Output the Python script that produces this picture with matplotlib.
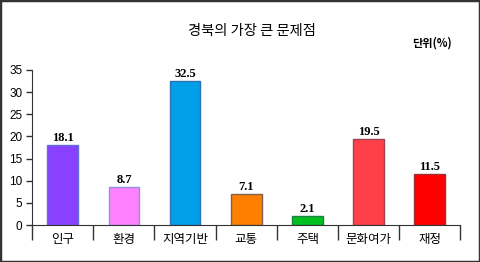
import matplotlib
matplotlib.use("Agg")
import matplotlib.pyplot as plt
from matplotlib.patches import Rectangle
import numpy as np

plt.rcParams["font.family"] = ["Noto Sans CJK KR", "DejaVu Sans"]

categories = ["인구", "환경", "지역기반", "교통", "주택", "문화여가", "재정"]
values = [18.1, 8.7, 32.5, 7.1, 2.1, 19.5, 11.5]
bar_colors = ["#8A40FF", "#FF80FF", "#00A0E8", "#FF8000", "#00C020", "#FF4048", "#FF0000"]
edge_colors = ["#6070D0", "#9090E0", "#3070B0", "#806050", "#208040", "#A04050", "#A03030"]
y_ticks = [0, 5, 10, 15, 20, 25, 30, 35]

fig = plt.figure(figsize=(4.8, 2.62), dpi=100)
ax = fig.add_axes([0.067, 0.141, 0.892, 0.592])

x = np.arange(len(categories))
ax.bar(x, values, width=0.5, color=bar_colors, edgecolor=edge_colors, linewidth=1)
for xi, v in zip(x, values):
    ax.text(xi, v + 0.2, f"{v}", ha="center", va="bottom", fontsize=9,
            fontweight="bold", family="Liberation Serif")

ax.set_xlim(-0.5, len(categories) - 0.5)
ax.set_ylim(0, 35)
ax.set_yticks(y_ticks)
ax.set_yticklabels([str(t) for t in y_ticks], fontsize=8.5, family="Liberation Sans")
ax.set_xticks(x)
ax.set_xticklabels(categories, fontsize=9)
ax.tick_params(axis="x", which="major", length=0, pad=6)
ax.set_xticks(np.arange(-0.5, len(categories)), minor=True)
ax.tick_params(axis="x", which="minor", length=11, width=1, color="#333333")
ax.tick_params(axis="y", length=4, width=1, color="#333333", pad=3)
for spine in ("top", "right"):
    ax.spines[spine].set_visible(False)
ax.spines["left"].set_color("#333333")
ax.spines["bottom"].set_color("#333333")

fig.text(0.525, 0.882, "경북의 가장 큰 문제점", ha="center", va="center", fontsize=10.3)
fig.text(0.9, 0.835, "단위(%)", ha="center", va="center", fontsize=8, fontweight="bold")

fig.patches.append(Rectangle((0, 0), 1, 1, transform=fig.transFigure, fill=False,
                             edgecolor="#333333", linewidth=2.5))

fig.savefig("out.png", dpi=100)
